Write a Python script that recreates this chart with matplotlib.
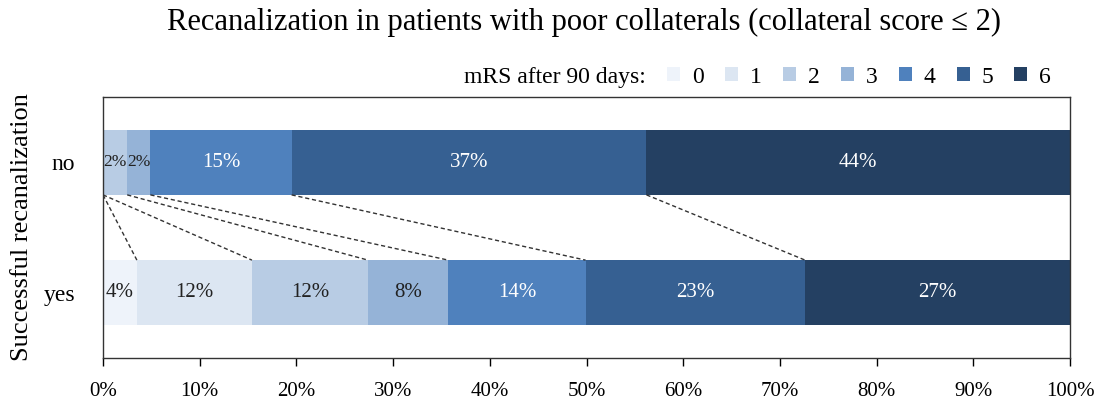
import matplotlib.pyplot as plt
import numpy as np

plt.rcParams['font.family'] = ['Liberation Serif', 'DejaVu Serif']

groups = ['no', 'yes']
mrs = ['0', '1', '2', '3', '4', '5', '6']
no_vals = [0.0, 0.0, 2.5, 2.4, 14.6, 36.7, 43.8]
yes_vals = [3.5, 11.9, 12.0, 8.3, 14.2, 22.7, 27.4]
colors = ['#eef3fa', '#dce6f2', '#b8cce4', '#95b3d7', '#4f81bd', '#366092', '#244062']
text_colors = ['#222222'] * 4 + ['white'] * 3

data = np.array([no_vals, yes_vals])
cum = np.cumsum(data, axis=1)
left = cum - data

fig = plt.figure(figsize=(11.02, 4), dpi=100)
ax = fig.add_axes([0.0935, 0.105, 0.8775, 0.6525])

h = 0.5
for j in range(len(mrs)):
    ax.barh([0, 1], data[:, j], left=left[:, j], height=h, color=colors[j],
            label=mrs[j], edgecolor='none')
    for i in range(2):
        v = data[i, j]
        if v > 0:
            ax.text(left[i, j] + v / 2, i, f'{v:.0f}%', ha='center', va='center',
                    fontsize=15 if v > 3 else 12.5, color=text_colors[j])

# dashed connectors between cumulative boundaries
for j in range(len(mrs) - 1):
    ax.plot([cum[0, j], cum[1, j]], [h / 2, 1 - h / 2], ls=(0, (3, 2)),
            color='#333333', lw=1)

ax.set_xlim(0, 100)
ax.set_ylim(1.5, -0.5)
ax.set_yticks([0, 1])
ax.set_yticklabels(groups, fontsize=17)
ax.tick_params(axis='y', length=0, pad=20)
ax.set_xticks(np.arange(0, 101, 10))
ax.set_xticklabels([f'{t}%' for t in range(0, 101, 10)], fontsize=15)
ax.tick_params(axis='x', length=6, width=1, direction='out', pad=11)
ax.set_ylabel('Successful recanalization', fontsize=19, labelpad=8)
for s in ax.spines.values():
    s.set_linewidth(1)
    s.set_color('#333333')

fig.text(0.53, 0.945, 'Recanalization in patients with poor collaterals (collateral score \u2264 2)',
         ha='center', va='center', fontsize=22)

leg = ax.legend(ncol=7, loc='lower right', bbox_to_anchor=(0.99, 1.0), frameon=False,
                fontsize=17, handlelength=0.55, handleheight=0.55, handletextpad=0.5,
                columnspacing=0.9, borderaxespad=0.2, borderpad=0.2)
fig.canvas.draw()
bb = leg.get_window_extent()
x0, y0 = fig.transFigure.inverted().transform((bb.x0, (bb.y0 + bb.y1) / 2))
fig.text(x0 - 0.015, y0, 'mRS after 90 days:', ha='right', va='center', fontsize=17)

fig.savefig('out.png', dpi=100)
